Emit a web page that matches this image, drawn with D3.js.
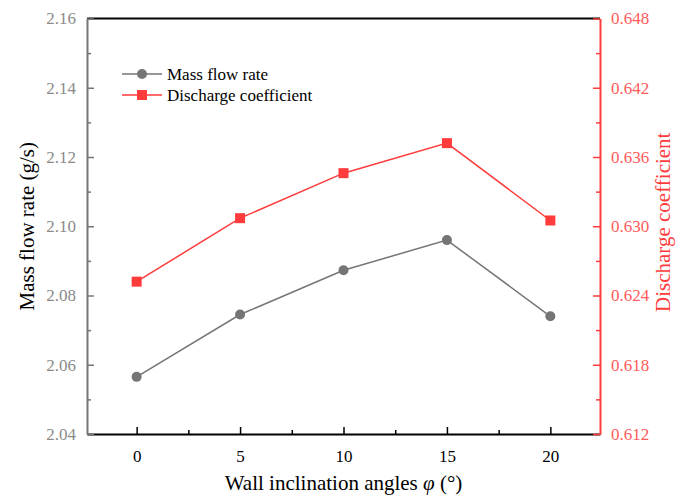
<!DOCTYPE html>
<html>
<head>
<meta charset="utf-8">
<script src="https://cdn.jsdelivr.net/npm/d3@7"></script>
<style>
  body { margin: 0; background: #fff; }
  svg text { font-family: "Liberation Serif", "Times New Roman", serif; }
</style>
</head>
<body>
<div id="chart"></div>
<script>
// data
var angles = [0, 5, 10, 15, 20];
var massFlow = [2.0565, 2.0745, 2.0873, 2.0960, 2.0740];
var discharge = [0.6252, 0.6307, 0.6346, 0.6372, 0.6305];
var xTicks = [0, 5, 10, 15, 20];
var leftTicks = [2.04, 2.06, 2.08, 2.10, 2.12, 2.14, 2.16];
var rightTicks = [0.612, 0.618, 0.624, 0.630, 0.636, 0.642, 0.648];

var svgWidth = 676, svgHeight = 498;
var margin = { top: 18.5, right: 76, bottom: 64, left: 87 };
var width = svgWidth - margin.left - margin.right;
var height = svgHeight - margin.top - margin.bottom;

var grey = "#757575", red = "#ff3b3b";
var serif = "'Liberation Serif', 'Times New Roman', serif";

var svg = d3.select("#chart").append("svg")
  .attr("width", svgWidth)
  .attr("height", svgHeight);

var g = svg.append("g")
  .attr("transform", `translate(${margin.left}, ${margin.top})`);

var x = d3.scaleLinear().domain([-2.4, 22.4]).range([0, width]);
var yL = d3.scaleLinear().domain([2.04, 2.16]).range([height, 0]);
var yR = d3.scaleLinear().domain([0.612, 0.648]).range([height, 0]);

// top frame line
g.append("line")
  .attr("x1", 0).attr("x2", width)
  .attr("y1", 0).attr("y2", 0)
  .attr("stroke", "#000").attr("stroke-width", 2);

// bottom axis - minor ticks first, then major
g.append("g")
  .attr("transform", `translate(0, ${height})`)
  .call(d3.axisBottom(x).tickValues([2.5, 7.5, 12.5, 17.5]).tickSize(-4).tickFormat(""))
  .call(a => a.select(".domain").remove())
  .call(a => a.selectAll("line").attr("stroke", "#000").attr("stroke-width", 1.5));

var xAxis = g.append("g")
  .attr("transform", `translate(0, ${height})`)
  .attr("font-family", serif)
  .call(d3.axisBottom(x).tickValues(xTicks).tickSizeInner(-7).tickSizeOuter(0).tickPadding(16));
xAxis.attr("font-family", serif);
xAxis.select(".domain").attr("stroke", "#000").attr("stroke-width", 2);
xAxis.selectAll("line").attr("stroke", "#000").attr("stroke-width", 1.5);
xAxis.selectAll("text").attr("fill", "#000").style("font-size", "17px").style("font-family", serif);

// left axis
g.append("g")
  .call(d3.axisLeft(yL).tickValues([2.05, 2.07, 2.09, 2.11, 2.13, 2.15]).tickSize(-4).tickFormat(""))
  .call(a => a.select(".domain").remove())
  .call(a => a.selectAll("line").attr("stroke", grey).attr("stroke-width", 1.5));

var leftAxis = g.append("g")
  .call(d3.axisLeft(yL).tickValues(leftTicks).tickFormat(d3.format(".2f"))
    .tickSizeInner(-7).tickSizeOuter(0).tickPadding(11));
leftAxis.attr("font-family", serif);
leftAxis.select(".domain").attr("stroke", grey).attr("stroke-width", 2);
leftAxis.selectAll("line").attr("stroke", grey).attr("stroke-width", 1.5);
leftAxis.selectAll("text").attr("fill", "#8a8a8a").style("font-size", "17px").style("font-family", serif);

// right axis
g.append("g")
  .attr("transform", `translate(${width}, 0)`)
  .call(d3.axisRight(yR).tickValues([0.615, 0.621, 0.627, 0.633, 0.639, 0.645]).tickSize(-4).tickFormat(""))
  .call(a => a.select(".domain").remove())
  .call(a => a.selectAll("line").attr("stroke", red).attr("stroke-width", 1.5));

var rightAxis = g.append("g")
  .attr("transform", `translate(${width}, 0)`)
  .call(d3.axisRight(yR).tickValues(rightTicks).tickFormat(d3.format(".3f"))
    .tickSizeInner(-7).tickSizeOuter(0).tickPadding(11));
rightAxis.attr("font-family", serif);
rightAxis.select(".domain").attr("stroke", red).attr("stroke-width", 2);
rightAxis.selectAll("line").attr("stroke", red).attr("stroke-width", 1.5);
rightAxis.selectAll("text").attr("fill", "#ff5a5a").style("font-size", "17px").style("font-family", serif);

// series
var massLine = d3.line().x((d, i) => x(angles[i])).y(d => yL(d));
var disLine = d3.line().x((d, i) => x(angles[i])).y(d => yR(d));

g.append("path").datum(massFlow)
  .attr("d", massLine)
  .attr("fill", "none").attr("stroke", grey).attr("stroke-width", 1.5);

g.selectAll(".mass-pt").data(massFlow).enter()
  .append("circle")
  .attr("class", "mass-pt")
  .attr("cx", (d, i) => x(angles[i]))
  .attr("cy", d => yL(d))
  .attr("r", 5)
  .attr("fill", grey);

g.append("path").datum(discharge)
  .attr("d", disLine)
  .attr("fill", "none").attr("stroke", red).attr("stroke-width", 1.5);

g.selectAll(".dis-pt").data(discharge).enter()
  .append("rect")
  .attr("class", "dis-pt")
  .attr("x", (d, i) => x(angles[i]) - 5)
  .attr("y", d => yR(d) - 5)
  .attr("width", 10).attr("height", 10)
  .attr("fill", red);

// legend
var legend = svg.append("g").attr("transform", "translate(122, 74)");
legend.append("line").attr("x1", 0).attr("x2", 40).attr("y1", 0).attr("y2", 0)
  .attr("stroke", grey).attr("stroke-width", 1.5);
legend.append("circle").attr("cx", 20).attr("cy", 0).attr("r", 5).attr("fill", grey);
legend.append("text").attr("x", 45).attr("y", 0).attr("dy", "0.35em")
  .style("font-size", "17px").attr("fill", "#000").text("Mass flow rate");

legend.append("line").attr("x1", 0).attr("x2", 40).attr("y1", 21).attr("y2", 21)
  .attr("stroke", red).attr("stroke-width", 1.5);
legend.append("rect").attr("x", 15).attr("y", 16).attr("width", 10).attr("height", 10).attr("fill", red);
legend.append("text").attr("x", 45).attr("y", 21).attr("dy", "0.35em")
  .style("font-size", "17px").attr("fill", "#000").text("Discharge coefficient");

// axis titles
svg.append("text")
  .attr("transform", `translate(${margin.left + width / 2}, 490)`)
  .attr("text-anchor", "middle")
  .style("font-size", "21px")
  .attr("fill", "#000")
  .html("Wall inclination angles <tspan font-style='italic'>φ</tspan> (°)");

svg.append("text")
  .attr("transform", `translate(34, ${margin.top + height / 2}) rotate(-90)`)
  .attr("text-anchor", "middle")
  .style("font-size", "21px")
  .attr("fill", "#000")
  .text("Mass flow rate (g/s)");

svg.append("text")
  .attr("transform", `translate(663, ${margin.top + height / 2 - 4}) rotate(-90)`)
  .attr("text-anchor", "middle")
  .attr("dy", "0.35em")
  .style("font-size", "21px")
  .attr("fill", red)
  .text("Discharge coefficient");
</script>
</body>
</html>
